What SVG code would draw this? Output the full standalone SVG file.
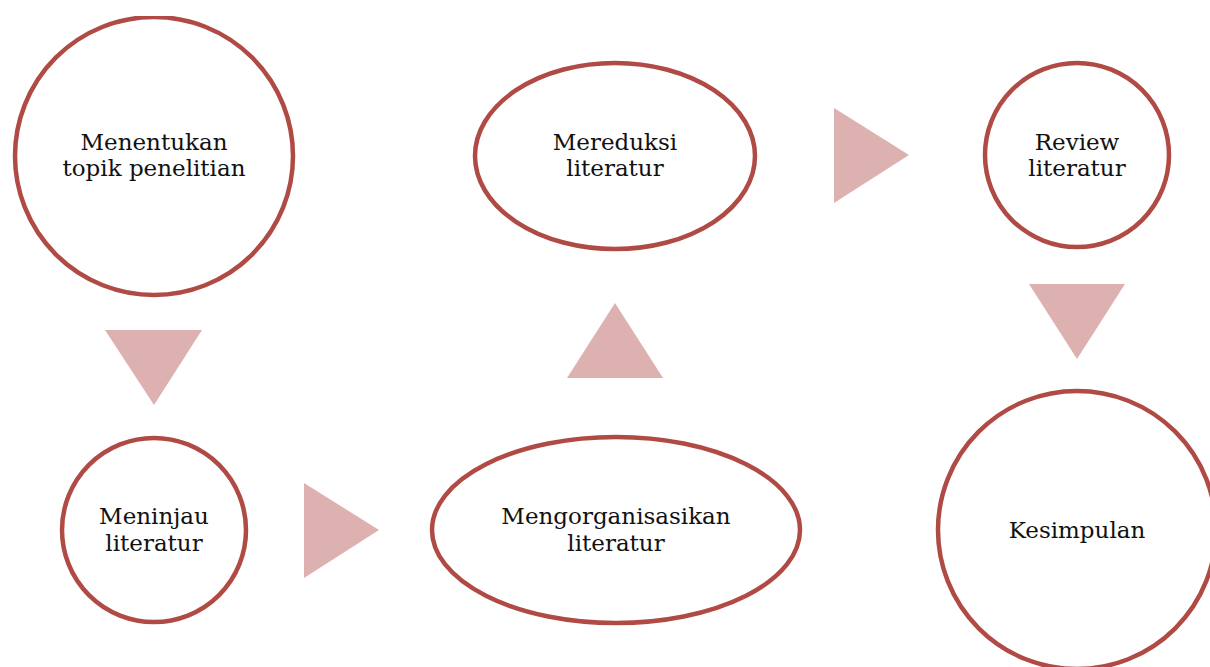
<svg xmlns="http://www.w3.org/2000/svg" width="1210" height="667" viewBox="0 0 1210 667">
<style>
.n{fill:#fff;stroke:#B04A45;stroke-width:4.5}
.a{fill:#DDB1B0;stroke:none}
text{font-family:"DejaVu Serif","Liberation Serif",serif;font-size:23px;fill:#111;text-anchor:middle}
</style>
<rect width="1210" height="667" fill="#fff"/>
<g id="connectors">
<polygon class="a" points="105,330 202,330 154,405"/>
<polygon class="a" points="304,483 304,578 379,530"/>
<polygon class="a" points="567,378 663,378 615,303"/>
<polygon class="a" points="834,108 834,203 909,155"/>
<polygon class="a" points="1029,284 1125,284 1077,359"/>
</g>
<svg x="0" y="16" width="1210" height="651" viewBox="0 16 1210 651" overflow="hidden">
<g id="n1"><circle class="n" cx="154" cy="156" r="139"/><text x="154" y="150">Menentukan</text><text x="154" y="176">topik penelitian</text></g>
<g id="n2"><circle class="n" cx="154" cy="530" r="92"/><text x="154" y="524">Meninjau</text><text x="154" y="551">literatur</text></g>
<g id="n3"><ellipse class="n" cx="616" cy="530" rx="184" ry="93"/><text x="616" y="524">Mengorganisasikan</text><text x="616" y="551">literatur</text></g>
<g id="n4"><ellipse class="n" cx="615" cy="156" rx="140" ry="93"/><text x="615" y="150">Mereduksi</text><text x="615" y="176">literatur</text></g>
<g id="n5"><circle class="n" cx="1077" cy="155" r="92"/><text x="1077" y="150">Review</text><text x="1077" y="176">literatur</text></g>
<g id="n6"><circle class="n" cx="1077" cy="530" r="139"/><text x="1077" y="538">Kesimpulan</text></g>
</svg>
</svg>
